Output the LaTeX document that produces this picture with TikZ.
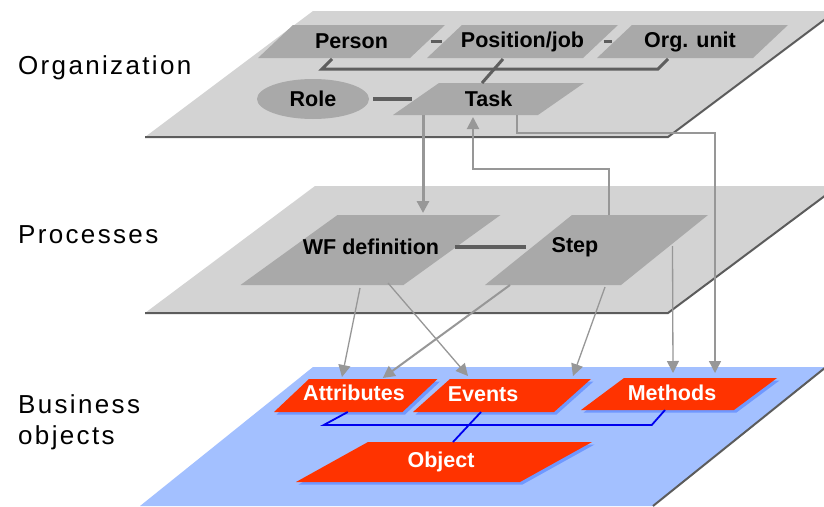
\documentclass[tikz,border=0pt]{standalone}
\usepackage{fontspec}
\setmainfont{Liberation Sans}
\newfontfamily\lblfont[LetterSpace=9]{Liberation Sans}
\usetikzlibrary{arrows.meta,calc,shapes.geometric}

\definecolor{planegray}{HTML}{D3D3D3}
\definecolor{boxgray}{HTML}{A9A9A9}
\definecolor{edgegray}{HTML}{5C5C5C}
\definecolor{linegray}{HTML}{5E5E5E}
\definecolor{arrgray}{HTML}{979797}
\definecolor{boplane}{HTML}{A3C0FF}
\definecolor{bored}{HTML}{FF3300}
\definecolor{boshadow}{HTML}{6F98FF}
\definecolor{boblue}{HTML}{0000EE}

% parallelogram centred at (#1,#2): base width #3, height #4, top shifted right by #5
\newcommand\pshape[6]{%
  \fill[#6] ({#1-#3/2-#5/2},{#2+#4/2}) -- ({#1+#3/2-#5/2},{#2+#4/2})
    -- ({#1+#3/2+#5/2},{#2-#4/2}) -- ({#1-#3/2+#5/2},{#2-#4/2}) -- cycle;}
% same, plus a named anchor node whose N/S/E/W anchors lie on the edges
\newcommand\pgram[7]{%
  \pshape{#2}{#3}{#4}{#5}{#6}{#7}%
  \node[anchorbox, minimum width=#4pt, minimum height=#5pt] (#1) at (#2,#3) {};}

\begin{document}
\begin{tikzpicture}[x=1pt,y=-1pt,
  lbl/.style={font=\lblfont\fontsize{26}{31}\selectfont, text=black, inner sep=0pt},
  boxtxt/.style={font=\fontsize{21.5}{24}\selectfont\bfseries, text=black, inner sep=0pt},
  botxt/.style={font=\fontsize{21.5}{24}\selectfont\bfseries, text=white, inner sep=0pt},
  anchorbox/.style={inner sep=0pt, outer sep=0pt, draw=none},
  graybox/.style={fill=boxgray},
  redbox/.style={fill=bored},
  redshadow/.style={fill=boshadow},
  planeedge/.style={draw=edgegray, line width=2pt},
  orgline/.style={draw=linegray, line width=3pt},
  boline/.style={draw=boblue, line width=1.8pt},
  arrthick/.style={draw=arrgray, line width=3pt, -{Triangle[length=12pt,width=12pt]}},
  arrmid/.style={draw=arrgray, line width=2pt, -{Triangle[length=12pt,width=12pt]}},
  arrthin/.style={draw=arrgray, line width=1.3pt, -{Triangle[length=12pt,width=12pt]}}]

\useasboundingbox (0,0) rectangle (824,506);
\clip (0,0) rectangle (824,506);
\fill[white] (0,0) rectangle (824,506);

% ---- layer planes ----
\fill[planegray] (313,11) -- (836,11) -- (668,137) -- (145,137) -- cycle;
\draw[planeedge] (145,137) -- (668,137) -- (836,11);
\fill[planegray] (315,186) -- (838,186) -- (668,313) -- (145,313) -- cycle;
\draw[planeedge] (145,313) -- (668,313) -- (838,186);
\fill[boplane] (313,367) -- (826,367) -- (653,506) -- (140,506) -- cycle;
\draw[planeedge] (653,506) -- (826,367);

% ---- layer titles ----
\node[lbl, anchor=west] (orglbl) at (18,68) {Organization};
\node[lbl, anchor=west] (proclbl) at (18,235) {Processes};
\node[lbl, anchor=west, align=left] (bolbl) at (18,422) {Business\\objects};

% ---- organization ----
\pgram{person}{351.5}{41.5}{152}{33}{35}{graybox}
\pgram{position}{522.5}{41.5}{156}{33}{35}{graybox}
\pgram{orgunit}{692.5}{41.5}{156}{33}{35}{graybox}
\pgram{task}{488.5}{99}{145}{32}{46}{graybox}
\node[ellipse, fill=boxgray, minimum width=112pt, minimum height=40pt, inner sep=0pt] (role) at (313,99) {};

\node[boxtxt] at (person) {Person};
\node[boxtxt] at (position) {Position/job};
\node[boxtxt] at ($(orgunit)+(-2.5,0)$) {Org. unit};
\node[boxtxt] at (task) {Task};
\node[boxtxt] at (role) {Role};

\draw[orgline] ($(person.east)+(3,0)$) -- ($(position.west)+(-3,0)$);
\draw[orgline] ($(position.east)+(3,0)$) -- ($(orgunit.west)+(-3,0)$);
\draw[orgline] ($(person.south)+(-19.5,1)$) -- ++(-10,10) -| ++(336,0)
  -- ($(orgunit.south)+(-24.5,1)$);
\draw[orgline] ($(position.south)+(-19.5,1)$) -- ($(task.north)+(-6.5,0)$);
\draw[orgline, line width=4pt] ($(role.east)+(4,0)$) -- ($(task.west)+(-4,0)$);

% ---- processes ----
\pgram{wf}{370.5}{250}{163}{70}{97}{graybox}
\pgram{step}{596.5}{250}{136}{70}{87}{graybox}
\node[boxtxt] at ($(wf)+(0.5,-3)$) {WF definition};
\node[boxtxt] at ($(step)+(-21.5,-3)$) {Step};
\draw[orgline, line width=4pt] ($(wf.east)+(3,-3)$) -- ($(step.west)+(-3,-3)$);

% ---- business objects ----
\pshape{358.25}{398}{128.5}{33}{35}{redshadow}
\pgram{attr}{355.75}{395.5}{128.5}{33}{35}{redbox}
\pshape{504.5}{398}{141}{33}{37}{redshadow}
\pgram{events}{502}{395.5}{141}{33}{37}{redbox}
\pshape{681.5}{396.5}{153}{32}{43}{redshadow}
\pgram{methods}{679}{394}{153}{32}{43}{redbox}
\pshape{446.5}{464.5}{224}{40}{72}{redshadow}
\pgram{object}{444}{462}{224}{40}{72}{redbox}

\node[botxt] at ($(attr)+(-1.75,-2.5)$) {Attributes};
\node[botxt] at ($(events)+(-19,-1)$) {Events};
\node[botxt] at ($(methods)+(-7,-1)$) {Methods};
\node[botxt] at ($(object)+(-3,0)$) {Object};

\draw[boline] ($(attr.south)+(-8,0)$) -- ++(-24,13) -- ++(328,0)
  -- ($(methods.south)+(-14,0)$);
\draw[boline] ($(events.south)+(-21,0)$) -- ($(object.north)+(9,0)$);

% ---- links between layers ----
\draw[arrthick] ($(task.south)+(-65.5,0)$) -- ($(wf.north)+(52.5,-2)$);
\draw[arrmid] ($(step.north)+(12.5,0)$) -- ++(0,-46) -| ($(task.south)+(-15.5,2)$);
\draw[arrthin] ($(task.south)+(28.5,0)$) -- ++(0,18) -| ($(methods.north)+(36,-5)$);
\draw[arrthin] ($(step.east)+(8,-4)$) -- ($(methods.north)+(-6,-5)$);
\draw[arrthin] ($(wf.south)+(-10.5,3)$) -- ($(attr.north)+(-13.75,-2)$);
\draw[arrthin] ($(wf.south)+(17.5,-2)$) -- ($(events.north)+(-34,-3)$);
\draw[arrmid] ($(step.south)+(-86.5,0)$) -- ($(attr.north)+(27,-1)$);
\draw[arrthin] ($(step.south)+(8.5,2)$) -- ($(events.north)+(71,-3)$);

\end{tikzpicture}
\end{document}
